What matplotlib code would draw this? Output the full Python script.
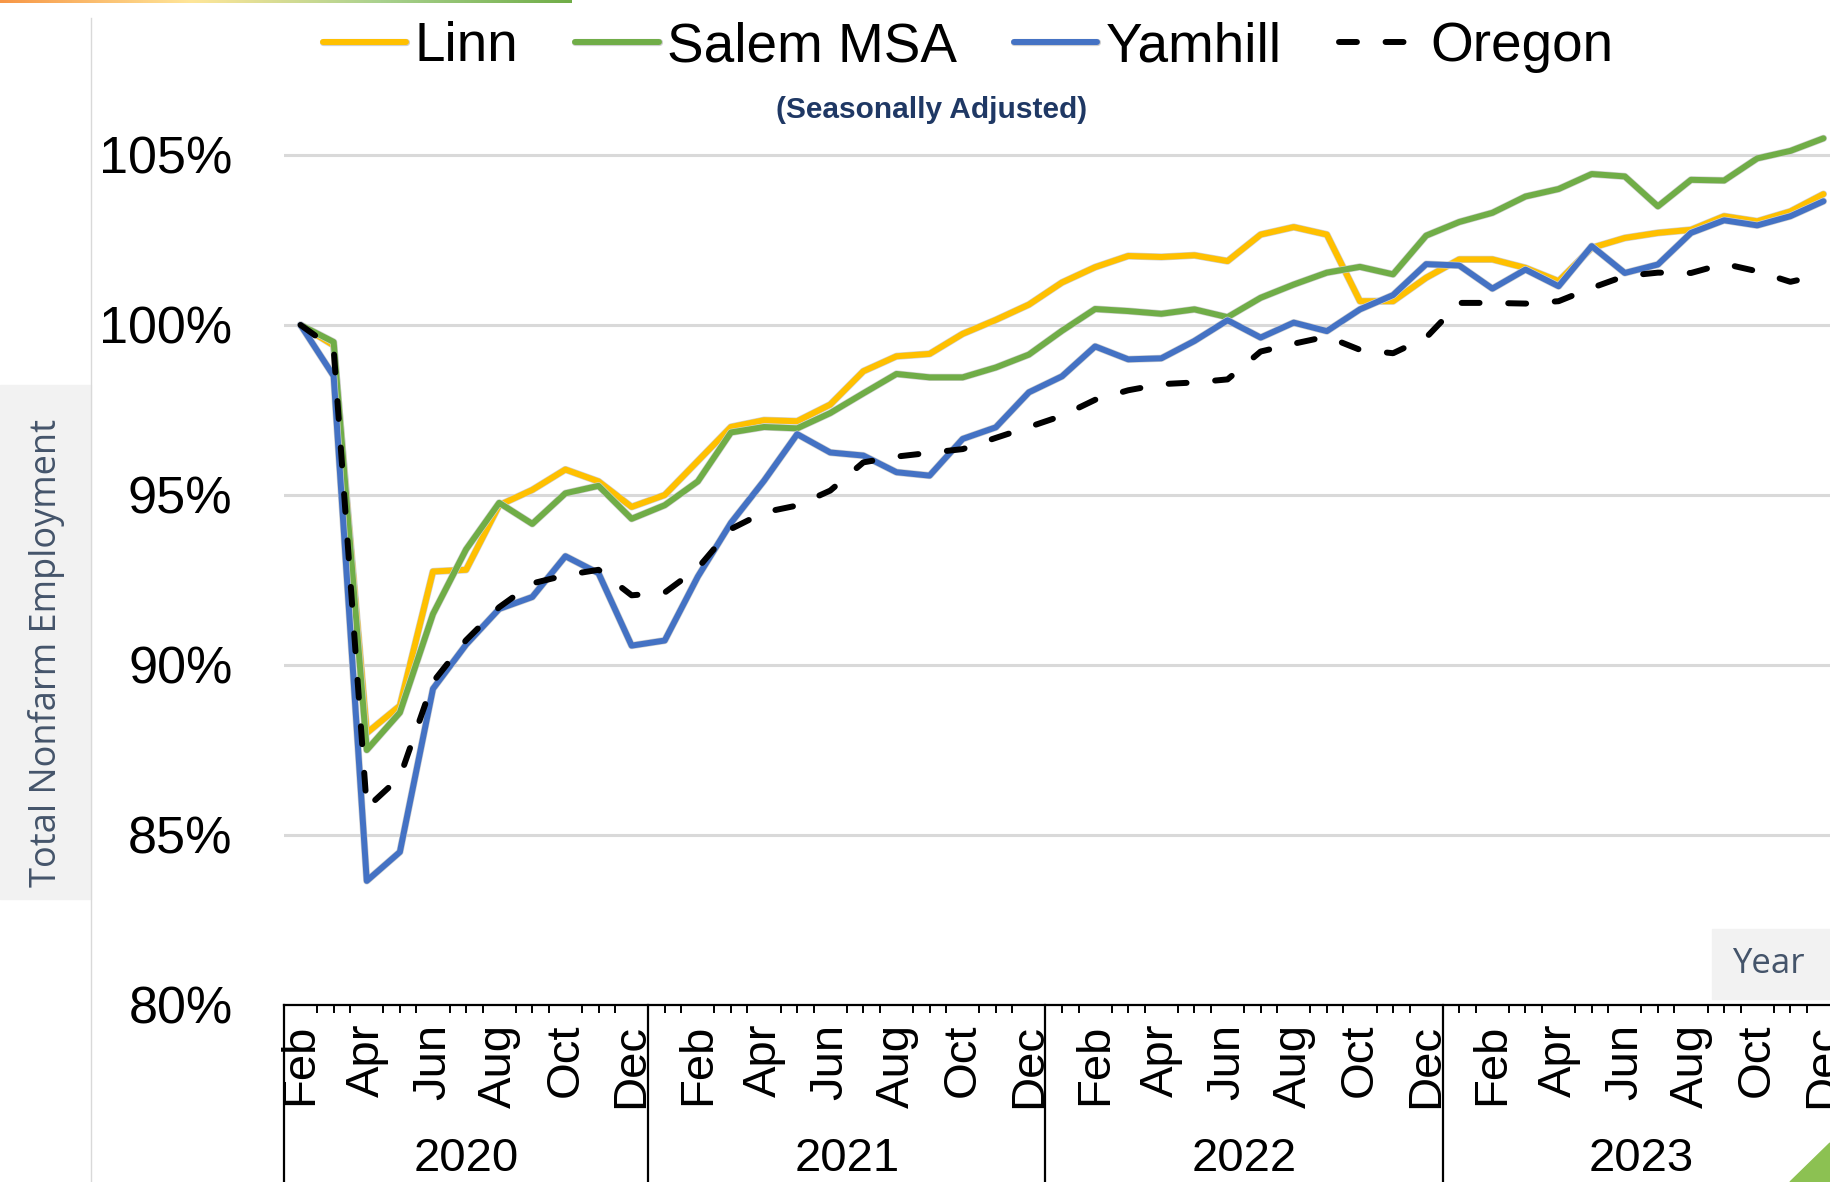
import numpy as np
import matplotlib
matplotlib.use('Agg')
import matplotlib.pyplot as plt
from matplotlib import font_manager
from matplotlib import patheffects as pe
from matplotlib.colors import LinearSegmentedColormap
from matplotlib.patches import Rectangle, Polygon
from matplotlib.lines import Line2D

# ---- data (index, Feb 2020 = 100%) ----
years = [2020, 2021, 2022, 2023]
month_abbr = ['Jan', 'Feb', 'Mar', 'Apr', 'May', 'Jun',
              'Jul', 'Aug', 'Sep', 'Oct', 'Nov', 'Dec']
labelled_months = ['Feb', 'Apr', 'Jun', 'Aug', 'Oct', 'Dec']

linn = [100.0, 99.4, 88.0, 88.8, 92.75, 92.8, 94.7, 95.15, 95.75, 95.4, 94.65, 95.0,
        96.0, 97.0, 97.2, 97.17, 97.66, 98.64, 99.08, 99.15, 99.74, 100.15, 100.6,
        101.25, 101.7, 102.03, 102.0, 102.05, 101.88, 102.66, 102.88, 102.66, 100.7, 100.7, 101.39,
        101.93, 101.93, 101.68, 101.29, 102.27, 102.56, 102.71, 102.8, 103.2, 103.05, 103.34, 103.85]
salem_msa = [100.0, 99.5, 87.5, 88.6, 91.5, 93.4, 94.77, 94.15, 95.05, 95.27, 94.3, 94.7,
             95.4, 96.84, 97.0, 96.96, 97.41, 97.99, 98.56, 98.46, 98.46, 98.75, 99.13,
             99.83, 100.47, 100.41, 100.33, 100.46, 100.23, 100.8, 101.19, 101.54, 101.71, 101.49, 102.63,
             103.03, 103.3, 103.78, 104.0, 104.44, 104.37, 103.49, 104.27, 104.25, 104.9, 105.12, 105.49]
yamhill = [100.0, 98.5, 83.65, 84.5, 89.3, 90.6, 91.65, 92.0, 93.2, 92.7, 90.57, 90.72,
           92.6, 94.18, 95.42, 96.79, 96.25, 96.16, 95.67, 95.57, 96.65, 96.99, 98.02,
           98.49, 99.37, 98.99, 99.02, 99.53, 100.14, 99.63, 100.07, 99.82, 100.46, 100.88, 101.79,
           101.75, 101.07, 101.63, 101.14, 102.32, 101.53, 101.78, 102.71, 103.08, 102.93, 103.2, 103.64]
oregon = [100.0, 99.3, 85.8, 86.7, 89.5, 90.73, 91.7, 92.4, 92.64, 92.8, 92.05, 92.13,
          92.85, 94.0, 94.49, 94.69, 95.13, 95.96, 96.13, 96.24, 96.35, 96.68, 97.0,
          97.33, 97.8, 98.08, 98.26, 98.31, 98.4, 99.22, 99.45, 99.66, 99.27, 99.17, 99.63,
          100.65, 100.65, 100.63, 100.7, 101.09, 101.44, 101.54, 101.53, 101.8, 101.58, 101.27, 101.49]

# categories: Feb 2020 .. Dec 2023
periods = [(y, m) for y in years for m in month_abbr][1:]
x = np.arange(len(periods))

# ---- fonts ----
available = {f.name for f in font_manager.fontManager.ttflist}
arial = 'Liberation Sans'
narrow = 'Liberation Sans Narrow' if 'Liberation Sans Narrow' in available else arial
plt.rcParams['font.family'] = [arial, 'DejaVu Sans']

W, H = 1830, 1182
fig = plt.figure(figsize=(W / 100, H / 100), dpi=100)

def fx(px):
    return px / W

def fy(py):
    return 1 - py / H

# ---- decorations ----
fig.patches.append(Rectangle((0, fy(899)), fx(91), (899 - 385) / H,
                             transform=fig.transFigure, color='#F2F2F2', zorder=0))
fig.lines.append(Line2D([fx(91), fx(91)], [0, fy(18)], transform=fig.transFigure,
                        color='#D9D9D9', lw=1))
fig.patches.append(Rectangle((fx(1712), fy(999)), fx(W - 1712), (999 - 929) / H,
                             transform=fig.transFigure, color='#F2F2F2', zorder=0))
fig.patches.append(Polygon([(fx(1790), 0), (1, fy(1143)), (1, 0)], closed=True,
                           transform=fig.transFigure, color='#8CC152', zorder=5))

top_ax = fig.add_axes([0, fy(3), fx(572), 3 / H])
grad = LinearSegmentedColormap.from_list('bar', ['#F79646', '#FFE699', '#A9D18E', '#70AD47'])
top_ax.imshow(np.linspace(0, 1, 256)[None, :], cmap=grad, aspect='auto')
top_ax.axis('off')

# ---- main axes ----
ax = fig.add_axes([fx(284), fy(1005), (1840 - 284) / W, (1005 - 121) / H])
ax.set_xlim(-0.5, len(periods) - 0.5)
ax.set_ylim(80, 106)

halo = [pe.Stroke(linewidth=5.2, foreground='#D0D0D0'), pe.Normal()]
series = [(linn, '#FFC000', 'Linn'),
          (salem_msa, '#70AD47', 'Salem MSA'),
          (yamhill, '#4472C4', 'Yamhill')]
for vals, col, name in series:
    ax.plot(x, vals, color=col, lw=4.3, label=name, solid_joinstyle='round',
            solid_capstyle='round', path_effects=halo)
ax.plot(x, oregon, color='black', lw=4.3, dashes=(3.0, 4.8), dash_capstyle='round',
        label='Oregon')

ax.set_yticks([80, 85, 90, 95, 100, 105])
ax.set_yticklabels([f'{v}%' for v in [80, 85, 90, 95, 100, 105]])
ax.yaxis.grid(True, color='#D9D9D9', lw=2.2)
ax.set_axisbelow(True)

major = [i for i, (y, m) in enumerate(periods) if m in labelled_months]
ax.set_xticks(major)
ax.set_xticklabels([periods[i][1] for i in major], rotation=90)
ax.set_xticks(np.arange(-0.5, len(periods), 0.5), minor=True)
ax.tick_params(axis='x', which='major', length=0, pad=13.5, labelsize=34)
ax.tick_params(axis='x', which='minor', length=6, width=1.4, direction='out')
ax.tick_params(axis='y', length=0, pad=37, labelsize=37.5)

for side in ['left', 'right', 'top']:
    ax.spines[side].set_visible(False)
ax.spines['bottom'].set_linewidth(1.6)

# year separators and year labels
xt = ax.get_xaxis_transform()
bounds = [-0.5] + [i - 0.5 for i in range(1, len(periods))
                   if periods[i][0] != periods[i - 1][0]] + [len(periods) - 0.5]
for b in bounds:
    ax.plot([b, b], [0, -0.21], transform=xt, color='black', lw=1.6, clip_on=False)
for k, yr in enumerate(years):
    ax.text((bounds[k] + bounds[k + 1]) / 2, -0.174, str(yr), transform=xt,
            ha='center', va='center', fontsize=34)

# legend and titles
fig.legend(*ax.get_legend_handles_labels(), loc='center', bbox_to_anchor=(fx(968), fy(47)),
           ncol=4, frameon=False, fontsize=39.5, handlelength=1.52, handletextpad=0.15,
           columnspacing=1.04, borderpad=0)

sub_size = 25 if narrow != arial else 21.5
fig.text(fx(932), fy(110), '(Seasonally Adjusted)', ha='center', va='center',
         fontsize=sub_size, fontweight='bold', color='#1F3864', family=narrow)

fig.text(fx(47), fy(653), 'Total Nonfarm Employment', rotation=90, ha='center', va='center',
         fontsize=26, color='#44546A', family='Open Sans')
fig.text(fx(1768), fy(964), 'Year', ha='center', va='center',
         fontsize=25, color='#44546A', family='Open Sans')

fig.savefig('out.png', dpi=100)
